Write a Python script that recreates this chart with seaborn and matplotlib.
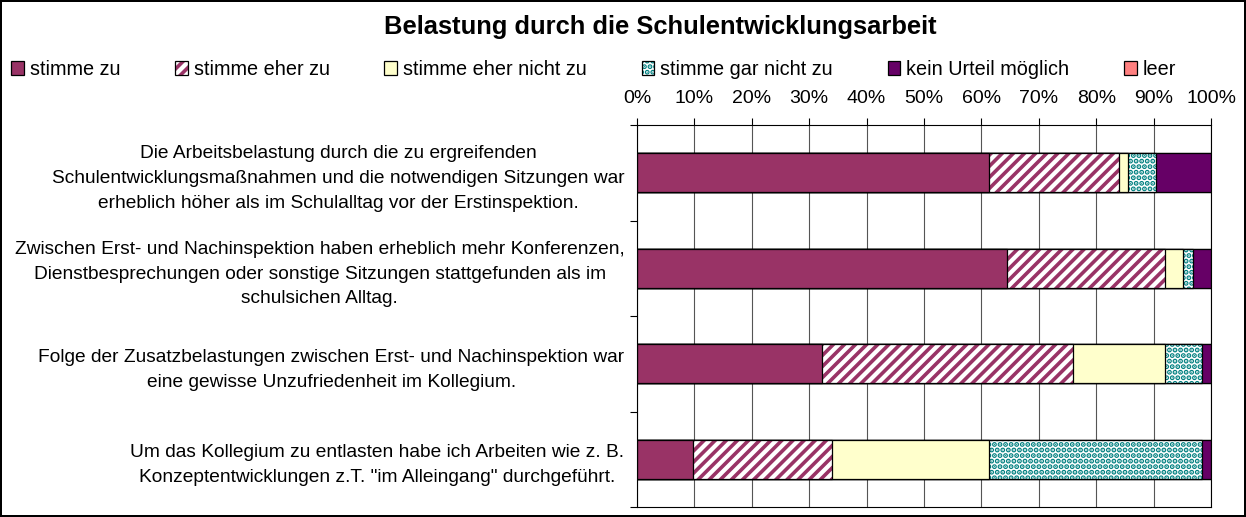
import numpy as np
import pandas as pd
import matplotlib
matplotlib.use("Agg")
import matplotlib.pyplot as plt
import matplotlib.colors as mcolors
import seaborn as sns

# data (percent of answers per statement)
statements = [
    "Die Arbeitsbelastung durch die zu ergreifenden\nSchulentwicklungsmaßnahmen und die notwendigen Sitzungen war\nerheblich höher als im Schulalltag vor der Erstinspektion.",
    "Zwischen Erst- und Nachinspektion haben erheblich mehr Konferenzen,\nDienstbesprechungen oder sonstige Sitzungen stattgefunden als im\nschulsichen Alltag.",
    "Folge der Zusatzbelastungen zwischen Erst- und Nachinspektion war\neine gewisse Unzufriedenheit im Kollegium.",
    "Um das Kollegium zu entlasten habe ich Arbeiten wie z. B.\nKonzeptentwicklungen z.T. \"im Alleingang\" durchgeführt.",
]
answers = ["stimme zu", "stimme eher zu", "stimme eher nicht zu",
           "stimme gar nicht zu", "kein Urteil möglich", "leer"]
stimme_zu = [61.3, 64.5, 32.3, 9.7]
eher_zu = [22.7, 27.5, 43.7, 24.3]
eher_nicht = [1.5, 3.2, 16.0, 27.3]
gar_nicht = [4.9, 1.7, 6.4, 37.1]
kein_urteil = [9.6, 3.1, 1.6, 1.6]
leer = [0.0, 0.0, 0.0, 0.0]
pct_labels = ["0%", "10%", "20%", "30%", "40%", "50%", "60%", "70%", "80%", "90%", "100%"]

sns.set_theme(style="white")
plt.rcParams["font.family"] = ["Liberation Sans", "DejaVu Sans"]
for k in ["text.color", "axes.labelcolor", "xtick.color", "ytick.color"]:
    plt.rcParams[k] = "black"
plt.rcParams["hatch.linewidth"] = 2.6

df = pd.DataFrame({"frage": statements, "stimme zu": stimme_zu, "stimme eher zu": eher_zu,
                   "stimme eher nicht zu": eher_nicht, "stimme gar nicht zu": gar_nicht,
                   "kein Urteil möglich": kein_urteil, "leer": leer})
cum = df[answers].cumsum(axis=1)

fill = {"stimme zu": "#993366", "stimme eher zu": "white", "stimme eher nicht zu": "#FFFFCC",
        "stimme gar nicht zu": "white", "kein Urteil möglich": "#660066", "leer": "#FF8080"}
# pattern, pattern colour, pattern line width
hatch = {"stimme eher zu": ("///", "#993366", 2.6), "stimme gar nicht zu": ("...", "#008080", 2.6)}

fig = plt.figure(figsize=(12.46, 5.17), dpi=100)
fig.patch.set_edgecolor("black")
fig.patch.set_linewidth(1.5)
ax = fig.add_axes([637 / 1246, 1 - 507 / 517, 574 / 1246, 382 / 517])

# stacked bars: draw cumulative totals from the back to the front
handles = {}
for name in answers[::-1]:
    n0 = len(ax.patches)
    sns.barplot(x=cum[name], y=df["frage"], orient="h", color=fill[name], saturation=1,
                width=0.41, edgecolor="black", linewidth=0.9, errorbar=None, ax=ax)
    new = ax.patches[n0:]
    for p in new:
        p.set_facecolor(fill[name])
        if name in hatch:
            pat, col, lw = hatch[name]
            p.set_hatch(pat)
            try:
                p.set_hatchcolor(col)
            except AttributeError:
                p._hatch_color = mcolors.to_rgba(col)
            try:
                p.set_hatch_linewidth(lw)
            except AttributeError:
                pass
    handles[name] = new[0]

ax.set_xlim(0, 100)
ax.set_ylim(3.5, -0.5)
ax.set_xlabel("")
ax.set_ylabel("")

ax.xaxis.tick_top()
ax.set_xticks(range(0, 101, 10))
ax.set_xticklabels(pct_labels, fontsize=14)
ax.tick_params(axis="x", top=True, length=5, width=0.8, color="black", direction="out", pad=8)
ax.grid(axis="x", color="#555555", linewidth=0.8)
ax.set_axisbelow(True)

ax.set_yticks(range(len(statements)))
ax.set_yticklabels(statements, fontsize=13.8)
for t in ax.get_yticklabels():
    t.set_multialignment("center")
    t.set_linespacing(1.6)
ax.tick_params(axis="y", which="major", length=0, pad=9)
ax.set_yticks([-0.5, 0.5, 1.5, 2.5, 3.5], minor=True)
ax.tick_params(axis="y", which="minor", left=True, length=5, width=0.8, color="black", direction="out")
for s in ax.spines.values():
    s.set_color("black")
    s.set_linewidth(0.8)

fig.text(660 / 1246, 1 - 27 / 517, "Belastung durch die Schulentwicklungsarbeit",
         ha="center", va="center", fontsize=18.4, fontweight="bold")

leg = fig.legend([handles[a] for a in answers], answers, loc="lower left",
                 bbox_to_anchor=(0.009, 1 - 79 / 517, 0.935, 0.04), mode="expand", ncol=6,
                 frameon=False, fontsize=14.3, handlelength=0.65, handleheight=0.65,
                 handletextpad=0.3, borderaxespad=0, borderpad=0)

fig.savefig("out.png", dpi=100)
